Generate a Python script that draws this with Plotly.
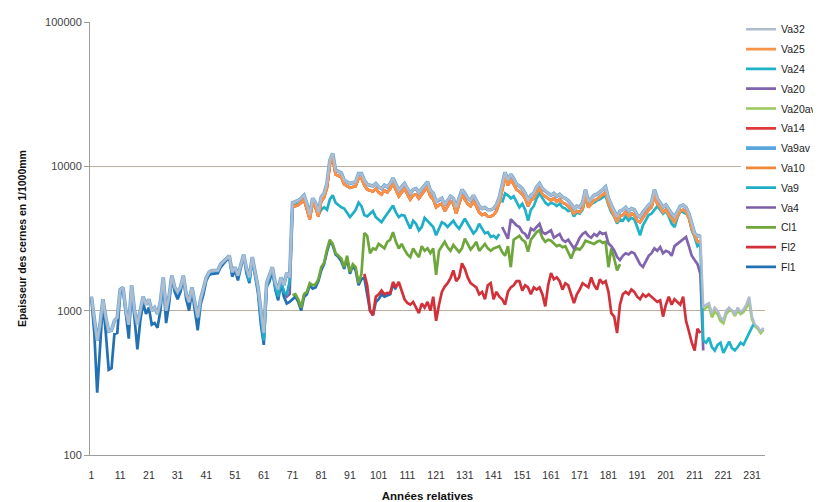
import plotly.graph_objects as go

N_YEARS = 235
years = list(range(1, N_YEARS + 1))
x_tick_vals = list(range(1, 232, 10))
x_tick_text = [str(v) for v in x_tick_vals]
y_tick_vals = [100, 1000, 10000, 100000]
y_tick_text = ["100", "1000", "10000", "100000"]

# ---- series values, each with its first year ----
fl1_start = 1
fl1 = [1200, 700, 270, 600, 1150, 700, 390, 400, 690, 700,
       1300, 1400, 900, 640, 1450, 900, 540, 850, 1130, 950,
       1050, 800, 820, 760, 1000, 1620, 820, 1100, 1700, 1350,
       1200, 1350, 1700, 1200, 1000, 1380, 1000, 730, 1100, 1300,
       1620, 1770, 1800, 1800, 1820, 2000, 2120, 2250, 2360, 1720,
       1900, 1620, 2000, 2420, 1800, 1550, 2300, 1700, 1320, 800,
       580, 1460, 1600, 1900, 1400, 1180, 1550, 1250, 1120, 1150,
       1200, 1250, 1150, 1000, 1240, 1300, 1500, 1420, 1450, 1600,
       1900, 2100, 2550, 3000, 2850, 2450, 2350, 2200, 1950, 2300,
       1800, 2050, 1900, 1500, 1650, 1700, 1300, 1000, 930, 1150,
       1200, 1300, 1250, 1280, 1300, 1520, 1400]

fl2_start = 96
fl2 = [1800, 1500, 1000, 930, 1250,
       1300, 1380, 1300, 1330, 1320, 1580, 1450, 1580, 1400, 1200,
       1130, 1100, 1150, 1050, 960, 1120, 1050, 1150, 1000, 1250,
       850, 1100, 1350, 1470, 1550, 1680, 1900, 1600, 1700, 2130,
       1950, 1700, 1550, 1500, 1450, 1300, 1350, 1200, 1500, 1550,
       1200, 1350, 1250, 1200, 1100, 1350, 1450, 1500, 1600, 1600,
       1380, 1500, 1450, 1300, 1450, 1400, 1450, 1300, 1070, 1500,
       1820, 1650, 1700, 1600, 1400, 1550, 1500, 1300, 1130, 1300,
       1400, 1550, 1500, 1450, 1700, 1500, 1400, 1650, 1550, 1600,
       1350, 960, 910, 700, 1100, 1300, 1350, 1300, 1400, 1350,
       1250, 1200, 1300, 1250, 1300, 1250, 1200, 1150, 1180, 910,
       1100, 1250, 1100, 1200, 1150, 1100, 1250, 850, 720, 600,
       530, 750, 700]

cl1_start = 71
cl1 = [1280, 1300, 1200, 1050, 1300, 1350, 1550, 1500, 1520, 1650,
       2000, 2150, 2650, 3100, 2900, 2500, 2400, 2300, 2000, 2400,
       1850, 2100, 2000, 1550, 1800, 3450, 3300, 2500, 2700, 2650,
       2900, 2800, 2700, 3000, 3100, 3500, 3000, 2700, 2900, 2650,
       2450, 2350, 2700, 2500, 2350, 2800, 2600, 2700, 2500, 2700,
       1770, 2600, 2800, 3000, 2750, 2600, 2850, 2700, 2550, 2700,
       3150, 2900, 2650, 2800, 3000, 2600, 2750, 2900, 2700, 2600,
       2700, 2750, 2800, 2550, 2400, 2800, 2000, 3100, 3200, 3300,
       3100, 3000, 2560, 3100, 3300, 3500, 3600, 3200, 3000, 3100,
       3050, 2900, 2800, 2850, 2750, 2800, 2500, 2300, 2600, 2700,
       2650, 2800, 3050, 3000, 2950, 2900, 3000, 3050, 2950, 3000,
       2000, 2700, 2300, 1900, 2100]

va4_start = 66
va4 = [1300, 1600, 1350, 1250, 1300, 5400]

va9_start = 55
va9 = [1850, 1600, 2250, 1750, 1400, 900,
       620, 1500, 1700, 1950, 1450, 1250, 1600, 1350, 1300, 1600,
       5300, 5400, 5500, 5600, 5900, 5000, 4400, 5600, 5200, 4600,
       5000, 5200, 5000, 5900, 6300, 5600, 5400, 5200, 5100, 4800,
       4450, 4700, 5000, 5600, 5300, 4600, 4500, 4700, 4900, 4450,
       4300, 4100, 4400, 4700, 4950, 5350, 4800, 4450, 4600, 4550,
       4100, 3700, 4200, 4000, 3600, 3800, 4400, 4200, 4000, 3800,
       3330, 3700, 4100, 4000, 3800, 4000, 4200, 3900, 3700, 4000,
       4340, 4000, 3700, 3430, 3600, 4000, 3700, 3430, 3500, 3250,
       3300, 3170, 3400]

orange_start = 71
orange_band = [5300, 5300, 5400, 5600, 5900, 5100, 4300, 5600, 5200, 4500,
               5700, 6100, 7100, 10300, 11500, 8800, 8600, 8400, 7500, 7300,
               7100, 7200, 7300, 8300, 8300, 7400, 6900, 6800, 6700, 7000,
               6600, 6400, 6800, 6600, 7000, 7600, 6800, 6200, 6600, 7000,
               6400, 5900, 6300, 6400, 6000, 6400, 6800, 7100, 6200, 5900,
               5200, 5400, 5500, 4900, 5300, 5700, 5500, 4700, 5500, 6300,
               5900, 5500, 5300, 5700, 5300, 4800, 4600, 4700, 4500, 4500,
               4600, 4900, 5600, 6900, 8400, 7400, 8100, 7500, 6900, 6700,
               6400, 6000, 5300, 5800, 6000, 6600, 7000, 6400, 6200, 6000,
               5800, 6000, 5700, 5900, 5600, 5500, 5300, 5000, 4700, 4900,
               4800, 5100, 6300, 5200, 5500, 5800, 5900, 6100, 6300, 6600,
               5500, 5000, 4600, 4100, 4500, 4600, 4800, 4500, 4700, 4600,
               4200, 4100, 4400, 4700, 5000, 5200, 6300, 5500, 5200, 4800,
               5000, 4600, 4300, 4100, 4500, 4900, 5000, 4800, 4400, 3700,
               3300, 3000, 3000]

top_start = 1
top_band = [1250, 900, 620, 800, 1200, 900, 720, 730, 850, 900,
            1400, 1450, 1000, 800, 1500, 1000, 800, 1000, 1250, 1100,
            1200, 1000, 1050, 950, 1150, 1700, 1000, 1250, 1750, 1450,
            1350, 1450, 1750, 1300, 1150, 1450, 1150, 900, 1200, 1450,
            1700, 1850, 1900, 1900, 1900, 2100, 2200, 2300, 2400, 1850,
            2000, 1750, 2100, 2450, 1950, 1700, 2350, 1850, 1450, 1000,
            700, 1550, 1750, 2000, 1550, 1400, 1700, 1500, 1830, 1700,
            5600, 5700, 5800, 6000, 6300, 5500, 4600, 6000, 5600, 4800,
            6100, 6500, 7600, 11000, 12300, 9400, 9200, 9000, 8000, 7800,
            7600, 7700, 7800, 8900, 8900, 8000, 7500, 7400, 7300, 7600,
            7200, 7000, 7400, 7200, 7600, 8300, 7400, 6800, 7200, 7600,
            7000, 6500, 6900, 7000, 6600, 7000, 7400, 7800, 6800, 6500,
            5700, 5900, 6000, 5400, 5800, 6200, 6000, 5200, 6000, 6900,
            6500, 6000, 5800, 6300, 5800, 5300, 5100, 5200, 5000, 5000,
            5100, 5400, 6100, 7500, 9100, 8000, 8800, 8200, 7500, 7300,
            7000, 6500, 5800, 6300, 6500, 7200, 7600, 7000, 6800, 6500,
            6300, 6500, 6200, 6400, 6100, 6000, 5800, 5500, 5100, 5300,
            5200, 5600, 6900, 5700, 6000, 6300, 6400, 6600, 6900, 7200,
            6000, 5400, 4950, 4450, 4900, 5000, 5200, 4900, 5100, 5000,
            4600, 4450, 4800, 5100, 5400, 5600, 6900, 6000, 5600, 5200,
            5400, 5000, 4700, 4450, 4900, 5300, 5400, 5200, 4700, 4000,
            3430, 3300, 3300, 1070, 1100, 1130, 960, 1050, 1000, 900,
            860, 1000, 1050, 1000, 950, 1050, 980, 1020, 1100, 1250,
            900, 800, 770, 720, 760]

va20av_start = 214
va20av = [1000, 1050, 1080, 900, 980, 950, 850, 820, 950, 1000,
          1000, 920, 1000, 950, 980, 1050, 1150, 870, 780, 750,
          700, 740]

va20_start = 144
va20 = [3800, 3500, 3150, 4300, 4100, 3900, 3800,
        3500, 3400, 3150, 3700, 3600, 3800, 4000, 3500, 3400, 3500,
        3600, 3200, 3300, 3400, 3100, 3000, 3100, 2900, 2700, 2900,
        3200, 3400, 3500, 3300, 3200, 3400, 3300, 3500, 3400, 3450,
        2920, 2800, 2620, 2360, 2240, 2400, 2500, 2450, 2550, 2500,
        2300, 2100, 2010, 2200, 2400, 2500, 2700, 2600, 2760, 2500,
        2600, 2550, 2400, 2800, 2900, 3000, 3100, 3240, 2800, 2400,
        2240, 2100, 1800, 530]

va24_start = 144
va24 = [5600, 6500, 6300, 6000, 6200, 5600, 5200,
        5500, 5000, 4200, 5000, 5300, 6000, 6500, 6000, 5600, 5400,
        5600, 5500, 5300, 5500, 5200, 5100, 4900, 5000, 4500, 4800,
        4700, 5000, 6000, 5300, 5500, 5600, 5800, 5900, 6100, 6300,
        5400, 4800, 4500, 4020, 4300, 4200, 4500, 4200, 4400, 4300,
        3800, 3330, 3900, 4200, 4600, 4700, 5000, 5300, 5000, 4700,
        4900, 4500, 4000, 3800, 4400, 4900, 4800, 4700, 4500, 3600,
        3240, 2800, 2900, 620, 600, 650, 560, 530, 580, 600,
        510, 560, 610, 550, 530, 560, 600, 580, 640, 700,
        770, 820]

TOP_BUNDLE_END = 213

# legend order as shown in the reference (top to bottom)
legend_order = ["Va32", "Va25", "Va24", "Va20", "Va20av", "Va14", "Va9av",
                "Va10", "Va9", "Va4", "Cl1", "Fl2", "Fl1"]


def place(start, vals, end=None):
    """Put a segment of values at its years; other years stay empty."""
    out = [None] * N_YEARS
    if end is not None:
        vals = vals[: end - start + 1]
    for i, v in enumerate(vals):
        out[start - 1 + i] = v
    return out


# drawing order: first drawn lies underneath
series = [
    ("Fl1", place(fl1_start, fl1), "#2370b3", 2.7),
    ("Fl2", place(fl2_start, fl2), "#d2313a", 2.7),
    ("Cl1", place(cl1_start, cl1), "#6ea63b", 2.7),
    ("Va4", place(va4_start, va4), "#7a5ca6", 2.7),
    ("Va9", place(va9_start, va9), "#1eaec6", 2.7),
    ("Va10", place(orange_start, orange_band), "#f08838", 2.7),
    ("Va9av", place(top_start, top_band, TOP_BUNDLE_END), "#5aa6df", 3.6),
    ("Va14", place(orange_start, orange_band), "#e0383c", 2.7),
    ("Va20av", place(va20av_start, va20av), "#98c95a", 2.7),
    ("Va20", place(va20_start, va20), "#8064ad", 2.7),
    ("Va24", place(va24_start, va24), "#20b3c8", 2.7),
    ("Va25", place(orange_start, orange_band), "#f6944a", 2.7),
    ("Va32", place(top_start, top_band), "#aebcce", 2.4),
]

fig = go.Figure()
for name, ys, color, w in series:
    fig.add_trace(go.Scatter(
        x=years, y=ys, name=name, legendgroup=name,
        legendrank=legend_order.index(name) + 1, mode="lines",
        line=dict(color=color, width=w), connectgaps=False,
    ))

# the page body adds an 8px offset; margins compensate for it
ML, MR, MT, MB = 82, 64, 14, 55
W, H = 821, 502
PW, PH = W - ML - MR, H - MT - MB
LEG_LEFT, LEG_TOP = 733, 6.8

FONT = "Arial, Liberation Sans, sans-serif"
fig.update_layout(
    width=W, height=H,
    margin=dict(l=ML, r=MR, t=MT, b=MB, autoexpand=False),
    paper_bgcolor="white", plot_bgcolor="white",
    font=dict(family=FONT, color="#333333"),
    legend=dict(
        x=(LEG_LEFT - ML) / PW, xanchor="left",
        y=(H - MB - LEG_TOP) / PH, yanchor="top",
        traceorder="grouped", bgcolor="white",
        font=dict(family=FONT, size=10.5, color="#222222"),
        tracegroupgap=0.8, itemwidth=30, maxheight=1.0,
    ),
)
fig.update_xaxes(
    automargin=False,
    range=[0.5, N_YEARS + 0.5],
    tickmode="array", tickvals=x_tick_vals, ticktext=x_tick_text,
    showgrid=False, zeroline=False,
    showline=True, linecolor="#9c9c9c", linewidth=1,
    ticks="", ticklabelstandoff=10, tickfont=dict(size=10.5, color="#333333"),
    title=dict(text="Années relatives", font=dict(size=11.5, color="#111111", weight="bold"), standoff=12),
)
fig.update_yaxes(
    automargin=False,
    type="log", range=[2, 5],
    tickmode="array", tickvals=y_tick_vals, ticktext=y_tick_text,
    showgrid=True, gridcolor="#bfae9c", gridwidth=1,
    showline=True, linecolor="#9c9c9c", linewidth=1,
    ticks="outside", ticklen=5, tickcolor="#9c9c9c",
    tickfont=dict(size=11, color="#444444"),
    title=dict(text="Epaisseur des cernes en 1/1000mm", font=dict(size=10.5, color="#111111", weight="bold"), standoff=16),
)

fig.write_html("out.html")
